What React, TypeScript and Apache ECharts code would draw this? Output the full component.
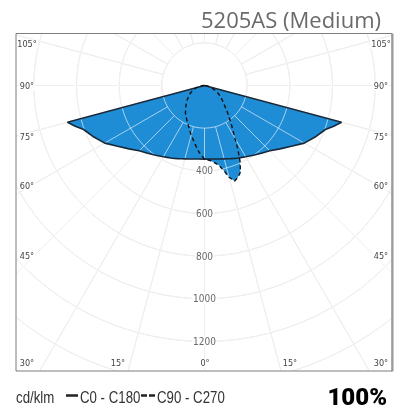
import React, { useEffect, useRef } from 'react';
import * as echarts from 'echarts';

// gamma angles (degrees from nadir) shared by all half-planes
const gammaDeg = [0, 5, 10, 12.5, 15, 17.5, 20, 22.5, 25, 27.5, 30, 35, 40, 45, 50, 55, 60, 65, 70, 72.5, 75, 80, 85, 90];
// intensities, cd/klm
const c0 = [345, 346, 350, 353, 356, 360, 365, 370, 375, 380, 386, 399, 415, 433, 462, 497, 540, 572, 603, 635, 665, 0, 0, 0];
const c180 = [345, 346, 350, 353, 356, 360, 365, 370, 375, 380, 386, 399, 415, 433, 462, 497, 540, 572, 603, 635, 665, 0, 0, 0];
const c90 = [345, 355, 378, 405, 445, 470, 458, 440, 395, 340, 285, 218, 170, 133, 110, 92, 75, 56, 38, 32, 25, 13, 5, 0];
const c270 = [345, 312, 272, 255, 240, 226, 212, 200, 190, 180, 172, 156, 136, 122, 107, 92, 80, 66, 52, 46, 40, 26, 13, 0];

const radiusTicks = [400, 600, 800, 1000, 1200];
const gridAngles = [-165, -150, -135, -120, -105, -90, -75, -60, -45, -30, -15, 0, 15, 30, 45, 60, 75, 90, 105, 120, 135, 150, 165, 180];
const sideAngleLabels = ['105°', '90°', '75°', '60°', '45°', '30°'];
const bottomAngleLabels = ['15°', '0°', '15°'];

const TITLE = '5205AS (Medium)';
const UNIT = 'cd/klm';
const LEGEND_SOLID = 'C0 - C180';
const LEGEND_DASHED = 'C90 - C270';
const PERCENT = '100%';

const NARROW = '"Liberation Sans Narrow", "DejaVu Sans Condensed", "Roboto Condensed", sans-serif';
const BLUE = '#1f8dd6';

// layout
const CX = 204.5;
const CY = 85.5;
const R_PX = 384;
const R_MAX = 1800;
const BOX = { l: 16, t: 33.5, r: 392, b: 371 };
const sideLabelY = [44, 86, 137, 186, 256, 363];
const bottomLabelX = [118, 205, 290];

function curve(left: number[], right: number[]): [number, number][] {
  const pts: [number, number][] = [];
  for (let i = gammaDeg.length - 1; i >= 0; i--) pts.push([left[i], -gammaDeg[i]]);
  for (let i = 1; i < gammaDeg.length; i++) pts.push([right[i], gammaDeg[i]]);
  return pts;
}

export default function App() {
  const ref = useRef<HTMLDivElement>(null);
  useEffect(() => {
    if (!ref.current) return;
    const chart = echarts.init(ref.current, undefined, { renderer: 'svg' });
    const solid = curve(c180, c0);
    const dashed = curve(c270, c90);

    const radial = (color: string, z: number, polarIndex: number) =>
      gridAngles.map((a) => ({
        type: 'line',
        coordinateSystem: 'polar',
        polarIndex,
        data: [[200, a], [R_MAX, a]],
        symbol: 'none',
        silent: true,
        z,
        lineStyle: { color, width: 1 },
      }));

    const angleAxisBase = {
      type: 'value',
      min: -180,
      max: 180,
      startAngle: 90,
      clockwise: false,
      axisLine: { show: false },
      axisTick: { show: false },
      axisLabel: { show: false },
      splitLine: { show: false },
    };
    const radiusAxisBase = {
      type: 'value',
      min: 0,
      max: R_MAX,
      interval: 200,
      axisLine: { show: false },
      axisTick: { show: false },
      axisLabel: { show: false },
    };

    const txt = (text: string, x: number, y: number, font: string, fill: string, align = 'center', bg = false) => ({
      type: 'text',
      z: 21,
      style: {
        text,
        x,
        y,
        font,
        fill,
        textAlign: align,
        textVerticalAlign: 'middle',
        ...(bg ? { backgroundColor: '#fff', padding: [0, 1] } : {}),
      },
    });
    const legendTxt = (text: string, x: number) => ({
      type: 'text',
      z: 21,
      x,
      y: 397,
      scaleX: 0.78,
      style: {
        text,
        x: 0,
        y: 0,
        font: '17px "Liberation Sans", Arial, sans-serif',
        fill: '#333',
        textAlign: 'left',
        textVerticalAlign: 'middle',
      },
    });

    const graphics: any[] = [
      { type: 'rect', z: 20, shape: { x: 0, y: 0, width: 403, height: BOX.t }, style: { fill: '#fff' } },
      { type: 'rect', z: 20, shape: { x: 0, y: 0, width: BOX.l, height: 411 }, style: { fill: '#fff' } },
      { type: 'rect', z: 20, shape: { x: BOX.r, y: 0, width: 403 - BOX.r, height: 411 }, style: { fill: '#fff' } },
      { type: 'rect', z: 20, shape: { x: 0, y: BOX.b, width: 403, height: 411 - BOX.b }, style: { fill: '#fff' } },
      { type: 'rect', z: 22, shape: { x: BOX.l, y: BOX.t, width: BOX.r - BOX.l, height: BOX.b - BOX.t }, style: { fill: 'none', stroke: '#7d7d7d', lineWidth: 1 } },
      { type: 'line', z: 22, shape: { x1: BOX.r + 0.5, y1: BOX.t, x2: BOX.r + 0.5, y2: BOX.b + 0.5 }, style: { stroke: '#9a9a9a', lineWidth: 2 } },
      txt(TITLE, 381, 19, '22px "Open Sans", sans-serif', '#6a6a6a', 'right'),
      legendTxt(UNIT, 16),
      { type: 'line', z: 22, shape: { x1: 66, y1: 395.5, x2: 78, y2: 395.5 }, style: { stroke: '#222', lineWidth: 2.5 } },
      legendTxt(LEGEND_SOLID, 80),
      { type: 'line', z: 22, shape: { x1: 141, y1: 395.5, x2: 147, y2: 395.5 }, style: { stroke: '#222', lineWidth: 2.5 } },
      { type: 'line', z: 22, shape: { x1: 149, y1: 395.5, x2: 155, y2: 395.5 }, style: { stroke: '#222', lineWidth: 2.5 } },
      legendTxt(LEGEND_DASHED, 157),
      txt(PERCENT, 387, 397, '900 24px Roboto, sans-serif', '#000', 'right'),
    ];
    sideAngleLabels.forEach((s, i) => {
      graphics.push(txt(s, 27, sideLabelY[i], `9px ${NARROW}`, '#444', 'center', true));
      graphics.push(txt(s, 381, sideLabelY[i], `9px ${NARROW}`, '#444', 'center', true));
    });
    bottomAngleLabels.forEach((s, i) => {
      graphics.push(txt(s, bottomLabelX[i], 363, `9px ${NARROW}`, '#444', 'center', true));
    });

    chart.setOption({
      animation: false,
      polar: [
        { center: [CX, CY], radius: R_PX },
        { center: [CX, CY], radius: R_PX },
      ],
      angleAxis: [
        { ...angleAxisBase, polarIndex: 0 },
        { ...angleAxisBase, polarIndex: 1 },
      ],
      radiusAxis: [
        { ...radiusAxisBase, polarIndex: 0, z: 0, splitLine: { show: true, lineStyle: { color: '#d8d8d8', width: 1 } } },
        { ...radiusAxisBase, polarIndex: 1, z: 3, splitLine: { show: true, lineStyle: { color: 'rgba(255,255,255,0.6)', width: 1 } } },
      ],
      series: [
        ...radial('#d8d8d8', 0, 0),
        {
          type: 'line', coordinateSystem: 'polar', polarIndex: 0, data: dashed, symbol: 'none', silent: true, z: 1,
          lineStyle: { width: 0, opacity: 0 }, areaStyle: { color: BLUE, opacity: 1 },
        },
        {
          type: 'line', coordinateSystem: 'polar', polarIndex: 0, data: solid, symbol: 'none', silent: true, z: 1,
          lineStyle: { width: 0, opacity: 0 }, areaStyle: { color: BLUE, opacity: 1 },
        },
        ...radial('rgba(255,255,255,0.6)', 3, 1),
        {
          type: 'line', coordinateSystem: 'polar', polarIndex: 0, data: solid, symbol: 'none', silent: true, z: 5,
          lineStyle: { color: '#17293a', width: 1.6 },
        },
        {
          type: 'line', coordinateSystem: 'polar', polarIndex: 0, data: dashed, symbol: 'none', silent: true, z: 5,
          lineStyle: { color: '#111', width: 1.4, type: [4, 3] },
        },
        {
          type: 'scatter', coordinateSystem: 'polar', polarIndex: 0, silent: true, z: 6,
          data: radiusTicks.map((r) => [r, 0]),
          symbolSize: 1,
          itemStyle: { color: 'rgba(0,0,0,0)' },
          label: {
            show: true, position: 'inside', formatter: (p: any) => String(p.value[0]),
            fontFamily: NARROW, fontSize: 10, color: '#444', backgroundColor: '#fff', padding: [0, 1],
          },
        },
      ],
      graphic: graphics,
    });
    return () => chart.dispose();
  }, []);
  return <div ref={ref} style={{ position: 'fixed', left: 0, top: 0, width: 403, height: 411 }} />;
}
